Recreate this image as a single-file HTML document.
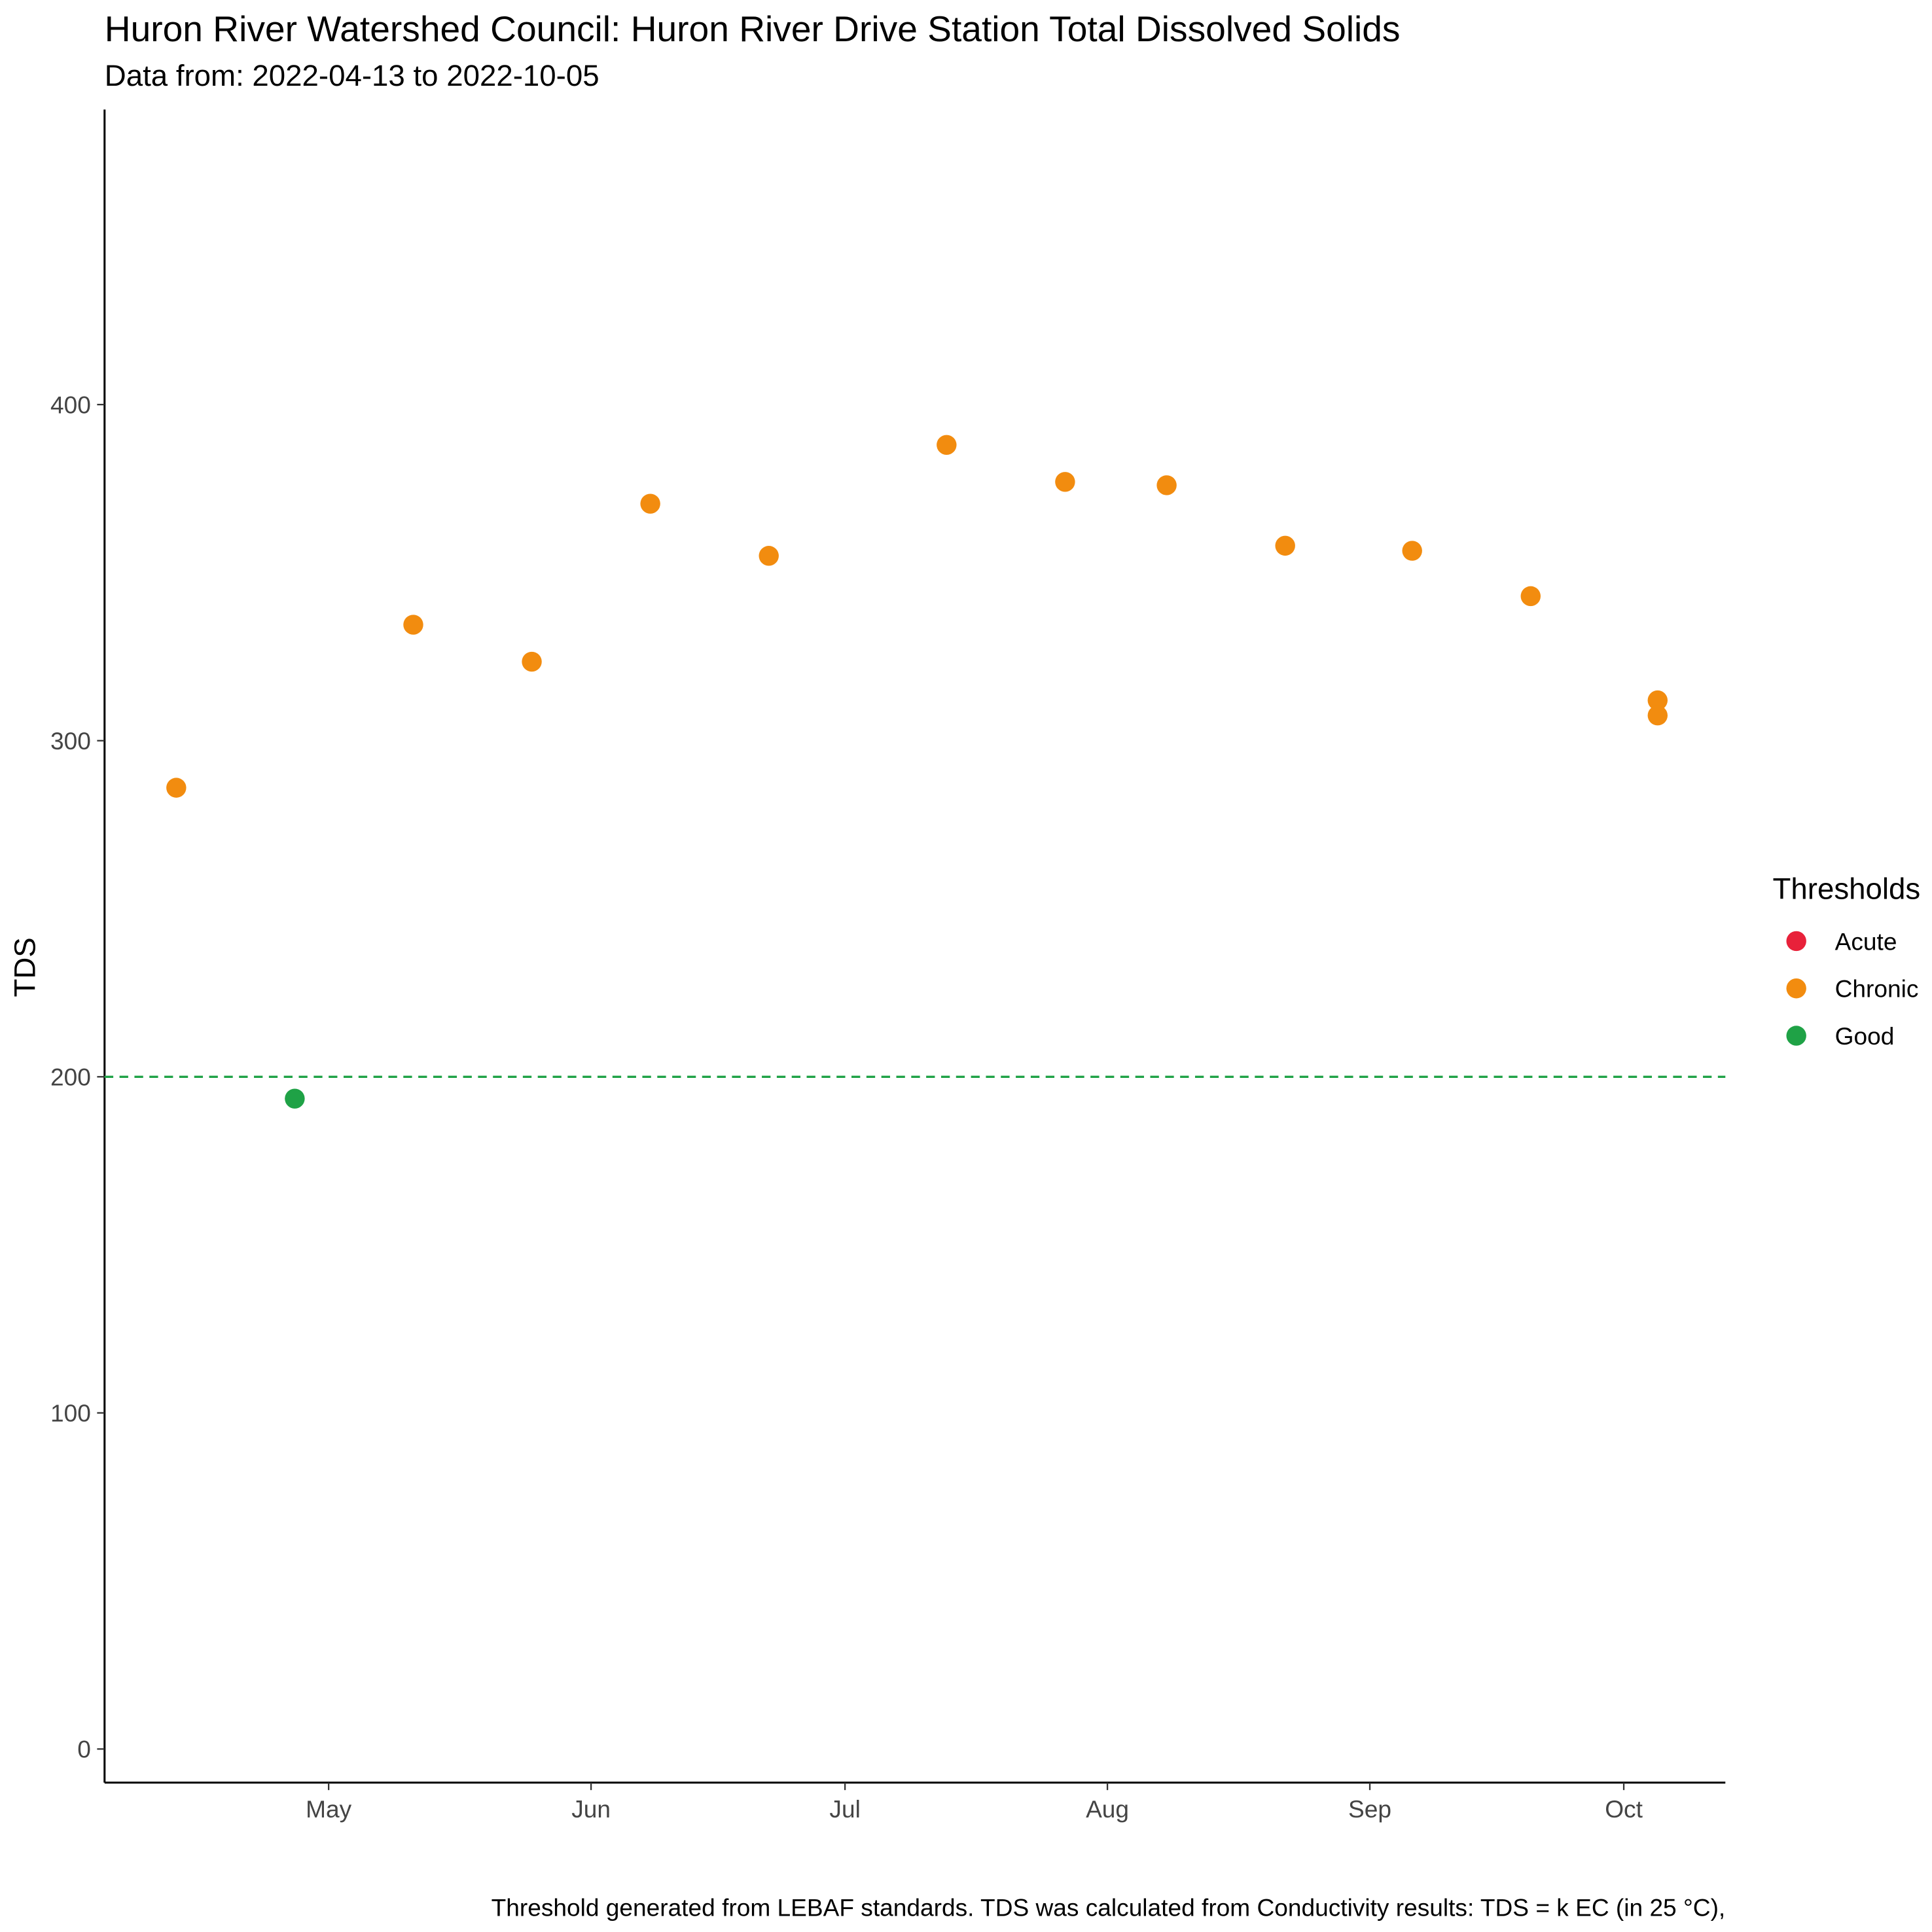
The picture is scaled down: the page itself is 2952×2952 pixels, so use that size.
<!DOCTYPE html>
<html><head><meta charset="utf-8"><style>html,body{margin:0;padding:0;background:#fff}svg{display:block}text{font-family:"Liberation Sans",Arial,sans-serif}</style></head>
<body>
<svg width="2952" height="2952" viewBox="0 0 1552 1552" xmlns="http://www.w3.org/2000/svg">
<rect width="1552" height="1552" fill="#fff"/>
<text x="84" y="33" font-size="29" fill="#000">Huron River Watershed Council: Huron River Drive Station Total Dissolved Solids</text>
<text x="84" y="69" font-size="24" fill="#000">Data from: 2022-04-13 to 2022-10-05</text>
<g id="axes"></g>
<g id="marks"></g>
<text transform="translate(28,777) rotate(-90)" text-anchor="middle" font-size="24" fill="#000">TDS</text>
<g>
<text x="1424" y="722" font-size="24" fill="#000">Thresholds</text>
<circle cx="1443" cy="756" r="8" fill="#E8213A"/>
<text x="1474" y="763" font-size="19.5" fill="#000">Acute</text>
<circle cx="1443" cy="794" r="8" fill="#F28C0F"/>
<text x="1474" y="801" font-size="19.5" fill="#000">Chronic</text>
<circle cx="1443" cy="832" r="8" fill="#1FA246"/>
<text x="1474" y="839" font-size="19.5" fill="#000">Good</text>
</g>
<text x="1386" y="1539" text-anchor="end" font-size="19.5" fill="#000">Threshold generated from LEBAF standards. TDS was calculated from Conductivity results: TDS = k EC (in 25 °C),</text>
</svg>
<script>
const dates=["2022-04-13","2022-04-27","2022-05-11","2022-05-25","2022-06-08","2022-06-22","2022-07-13","2022-07-27","2022-08-08","2022-08-22","2022-09-06","2022-09-20","2022-10-05","2022-10-05"];
const tdsValues=[286,193.5,334.5,323.5,370.5,355,388,377,376,358,356.5,343,312,307.5];
const yTicks=[0,100,200,300,400];
const monthTicks=["2022-05-01","2022-06-01","2022-07-01","2022-08-01","2022-09-01","2022-10-01"];
const monthLabels=["May","Jun","Jul","Aug","Sep","Oct"];
const threshold=200;
const NS="http://www.w3.org/2000/svg";
const t0=Date.UTC(2022,4,1);
function xs(d){const p=d.split("-");const t=Date.UTC(+p[0],+p[1]-1,+p[2]);return 264+(t-t0)/86400000*6.8;}
function ys(v){return 1405-v*2.7;}
function mk(tag,attrs,parent){const e=document.createElementNS(NS,tag);for(const k in attrs)e.setAttribute(k,attrs[k]);parent.appendChild(e);return e;}
const axes=document.getElementById("axes"),marks=document.getElementById("marks");
let l=mk("line",{x1:84,y1:88,x2:84,y2:1432,stroke:"#000","stroke-width":1.6},axes);


l=mk("line",{x1:84,y1:1432,x2:1386,y2:1432,stroke:"#000","stroke-width":1.6},axes);


yTicks.forEach(v=>{
 const y=ys(v);
 const t=mk("line",{x1:78,y1:y,x2:84,y2:y,stroke:"#333","stroke-width":1.2},axes);
 
 
 const tx=mk("text",{x:73,y:y+7,"text-anchor":"end","font-size":19.5,fill:"#444"},axes);
 tx.textContent=v;
 
 
});
monthTicks.forEach((d,i)=>{
 const x=xs(d);
 const t=mk("line",{x1:x,y1:1432,x2:x,y2:1438,stroke:"#333","stroke-width":1.2},axes);
 
 
 const tx=mk("text",{x:x,y:1460,"text-anchor":"middle","font-size":19.5,fill:"#444"},axes);
 tx.textContent=monthLabels[i];
 
 
});
const th=mk("line",{x1:84,y1:ys(threshold),x2:1386,y2:ys(threshold),stroke:"#1FA246","stroke-width":1.8,"stroke-dasharray":"7,5"},marks);


dates.forEach((d,i)=>{
 const v=tdsValues[i];
 const c=mk("circle",{cx:xs(d),cy:ys(v),r:8,fill:v<threshold?"#1FA246":"#F28C0F"},marks);
 
 
});
</script>
</body></html>
